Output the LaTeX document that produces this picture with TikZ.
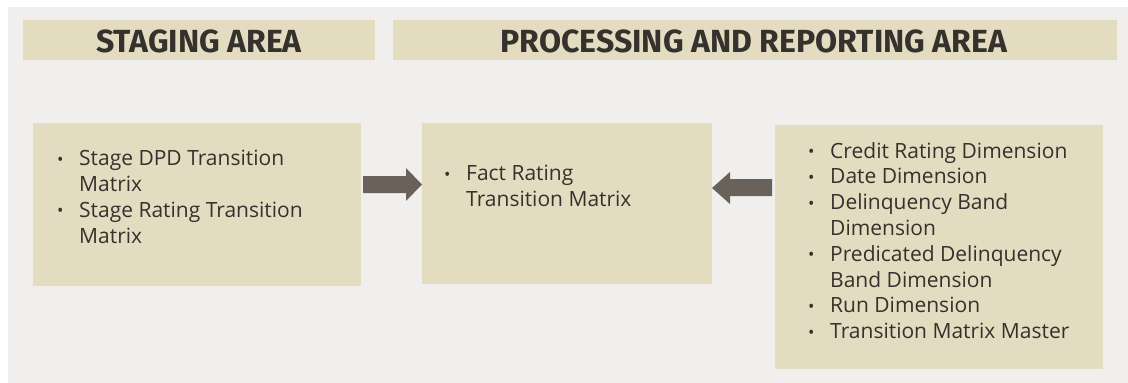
\documentclass[tikz,border=0pt]{standalone}
\usepackage{fontspec}
\setmainfont{Open Sans}
\newfontfamily\headfont{Fira Sans}
\definecolor{bgray}{HTML}{F0EFED}
\definecolor{tan}{HTML}{E4DCC0}
\definecolor{txt}{HTML}{35312D}
\definecolor{arr}{HTML}{6A615B}
\newcommand{\bul}{\makebox[23pt][l]{\hspace*{1pt}\raisebox{0.5pt}{\fontsize{17}{17}\selectfont•}}}
\newcommand{\ind}{\hspace*{23pt}}
\tikzset{
  panel/.style={fill=tan, draw=none},
  head/.style={font=\headfont\bfseries\fontsize{32}{34}\selectfont, text=txt, inner sep=0pt},
  body/.style={font=\fontsize{21}{25.8}\selectfont, text=txt, align=left, inner sep=0pt, anchor=north west},
  bigarrow/.style={fill=arr, draw=none}
}
\begin{document}
\begin{tikzpicture}[x=1pt,y=-1pt]
\useasboundingbox (0,0) rectangle (1128,383);
\fill[bgray] (8,7) rectangle (1128,383);
% headers
\fill[panel] (23,20) rectangle (375,60);
\fill[panel] (393,20) rectangle (1117,60);
\node[head] (h1) at (199,41) {STAGING AREA};
\node[head] (h2) at (754,41) {PROCESSING AND REPORTING AREA};
% boxes
\fill[panel] (33,123) rectangle (361,286);
\fill[panel] (422,123) rectangle (712,284);
\fill[panel] (775,125) rectangle (1103,369);
\node[body] (t1) at (56,150) {\bul Stage DPD Transition\\\ind Matrix\\\bul Stage Rating Transition\\\ind Matrix};
\node[body] (t2) at (443,165) {\bul Fact Rating\\\ind Transition Matrix};
\node[body] (t3) at (807,142) {\bul Credit Rating Dimension\\\bul Date Dimension\\\bul Delinquency Band\\\ind Dimension\\\bul Predicated Delinquency\\\ind Band Dimension\\\bul Run Dimension\\\bul Transition Matrix Master};
% arrows
\fill[bigarrow] (363,176) -- (406,176) -- (406,168) -- (422,184.5) -- (406,201) -- (406,193) -- (363,193) -- cycle;
\fill[bigarrow] (772,179) -- (730,179) -- (730,172) -- (712,188) -- (730,204) -- (730,196) -- (772,196) -- cycle;
\end{tikzpicture}
\end{document}
